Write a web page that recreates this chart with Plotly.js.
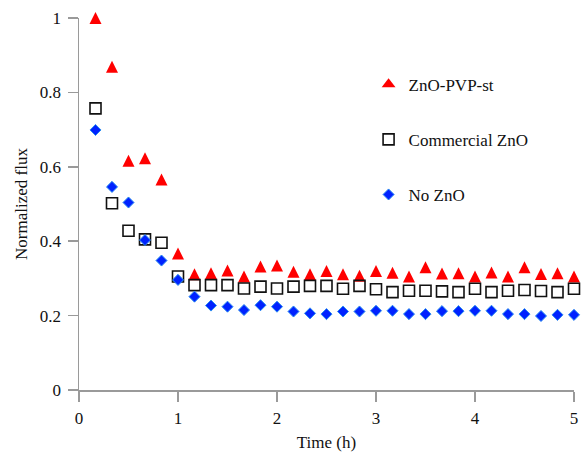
<!DOCTYPE html>
<html>
<head>
<meta charset="utf-8">
<script src="https://cdn.plot.ly/plotly-3.0.1.min.js"></script>
<style>html,body{margin:0;padding:0;background:#fff;}#chart{width:581px;height:452px;}</style>
</head>
<body>
<div id="chart"></div>
<script>
var timeH = [0.1667,0.3333,0.5,0.6667,0.8333,1.0,1.1667,1.3333,1.5,1.6667,1.8333,2.0,2.1667,2.3333,2.5,2.6667,2.8333,3.0,3.1667,3.3333,3.5,3.6667,3.8333,4.0,4.1667,4.3333,4.5,4.6667,4.8333,5.0];
var znoPvpSt = [1.0,0.869,0.616,0.623,0.566,0.367,0.311,0.314,0.321,0.305,0.332,0.335,0.318,0.311,0.320,0.311,0.307,0.320,0.315,0.305,0.330,0.313,0.314,0.305,0.316,0.305,0.330,0.312,0.314,0.305];
var commercialZnO = [0.757,0.502,0.428,0.405,0.396,0.305,0.282,0.282,0.282,0.273,0.278,0.273,0.278,0.280,0.280,0.272,0.280,0.271,0.263,0.267,0.267,0.265,0.263,0.272,0.263,0.267,0.269,0.266,0.263,0.272];
var noZnO = [0.699,0.546,0.504,0.403,0.348,0.296,0.251,0.227,0.224,0.215,0.228,0.224,0.211,0.206,0.204,0.211,0.211,0.213,0.213,0.204,0.204,0.212,0.212,0.213,0.213,0.204,0.204,0.199,0.202,0.202];
var seriesNames = ['ZnO-PVP-st','Commercial ZnO','No ZnO'];

var serif = '"Liberation Serif", "Times New Roman", serif';
var traces = [
  // plotted triangles (equal width/height, centred on the data point)
  {x: timeH, y: znoPvpSt, name: seriesNames[0], type: 'scatter', mode: 'markers', legendgroup: 'a', showlegend: false,
   marker: {symbol: 'arrow-down', angle: 180, size: 12, standoff: 6, color: '#ff0000', line: {width: 0}}, cliponaxis: false},
  // legend entry for the same series (no plotted points)
  {x: [null], y: [null], name: seriesNames[0], type: 'scatter', mode: 'markers', legendgroup: 'a', showlegend: true,
   marker: {symbol: 'triangle-up', size: 12, color: '#ff0000', line: {width: 0}}},
  {x: timeH, y: commercialZnO, name: seriesNames[1], type: 'scatter', mode: 'markers', legendgroup: 'b',
   marker: {symbol: 'square-open', size: 11, color: '#111111', line: {width: 1.6, color: '#111111'}}, cliponaxis: false},
  {x: timeH, y: noZnO, name: seriesNames[2], type: 'scatter', mode: 'markers', legendgroup: 'c',
   marker: {symbol: 'diamond', size: 8.5, color: '#0022ff', line: {width: 1, color: '#2a8cf0'}}, cliponaxis: false}
];

var axisCommon = {
  showgrid: false, zeroline: false, showline: true, linecolor: '#9a9a9a', linewidth: 1.5,
  ticks: 'outside', ticklen: 10, tickwidth: 1.5, tickcolor: '#9a9a9a',
  tickfont: {family: serif, size: 17, color: '#111'}
};

var layout = {
  width: 581, height: 452,
  margin: {l: 79, r: 7, t: 18, b: 62},
  paper_bgcolor: '#ffffff', plot_bgcolor: '#ffffff',
  showlegend: true,
  legend: {x: 0.585, y: 0.869, xanchor: 'left', yanchor: 'top', traceorder: 'grouped', tracegroupgap: 30,
           font: {family: serif, size: 17, color: '#111'}, bgcolor: 'rgba(0,0,0,0)'},
  xaxis: Object.assign({}, axisCommon, {range: [0, 5], dtick: 1, tick0: 0, ticklabelstandoff: 2,
    title: {text: 'Time (h)', font: {family: serif, size: 17, color: '#111'}, standoff: 9}}),
  yaxis: Object.assign({}, axisCommon, {range: [0, 1], dtick: 0.2, tick0: 0, ticklabelstandoff: 3,
    title: {text: 'Normalized flux', font: {family: serif, size: 17, color: '#111'}, standoff: 8}})
};

Plotly.newPlot('chart', traces, layout, {displayModeBar: false, staticPlot: true});
</script>
</body>
</html>
